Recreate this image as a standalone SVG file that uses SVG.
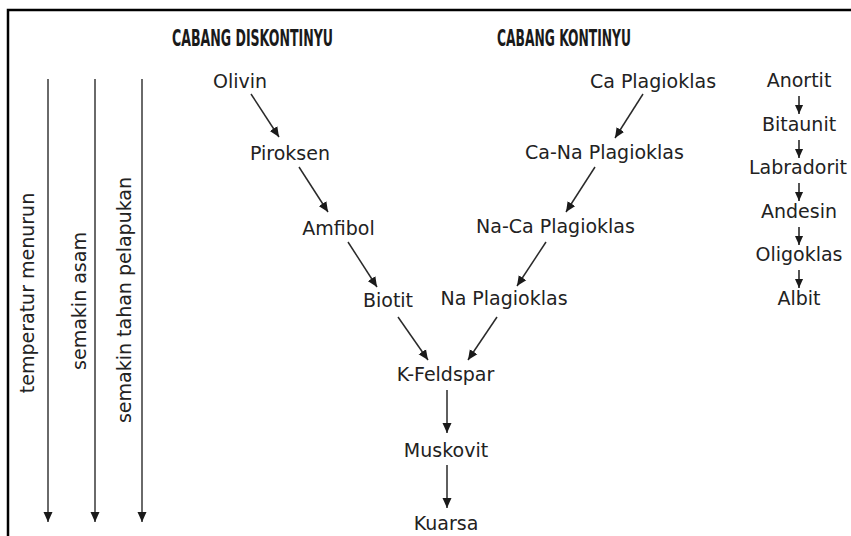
<svg xmlns="http://www.w3.org/2000/svg" width="851" height="536" viewBox="0 0 851 536">
<style>
text{font-family:"DejaVu Sans","Verdana",sans-serif;font-size:19px;fill:#222;text-anchor:middle}
.h{font-family:"DejaVu Sans Condensed","DejaVu Sans",sans-serif;font-weight:bold;font-size:23px;fill:#1a1a1a}
.c{stroke:#2a2a2a;stroke-width:1.5;fill:none}
.g{stroke:#6a6a6a;stroke-width:2;fill:none}
.s{stroke:#2a2a2a;stroke-width:1.6;fill:none}
</style>
<defs>
<marker id="a" viewBox="0 0 10 10" refX="10" refY="5" markerWidth="10" markerHeight="10" markerUnits="userSpaceOnUse" orient="auto">
<path d="M0,0.5 L10,5 L0,9.5 Z" fill="#1a1a1a"/>
</marker>
<marker id="b" viewBox="0 0 10 10" refX="10" refY="5" markerWidth="12" markerHeight="10" markerUnits="userSpaceOnUse" orient="auto">
<path d="M0,0.5 L10,5 L0,9.5 Z" fill="#1a1a1a"/>
</marker>
<marker id="m" viewBox="0 0 10 10" refX="10" refY="5" markerWidth="9" markerHeight="9" markerUnits="userSpaceOnUse" orient="auto">
<path d="M0,0.5 L10,5 L0,9.5 Z" fill="#1a1a1a"/>
</marker>
</defs>
<rect width="851" height="536" fill="#fff"/>
<path d="M8,536 V10 H851" stroke="#000" stroke-width="2.5" fill="none"/>

<g id="headings">
<text class="h" x="252.5" y="46" textLength="161" lengthAdjust="spacingAndGlyphs">CABANG DISKONTINYU</text>
<text class="h" x="564" y="46" textLength="134" lengthAdjust="spacingAndGlyphs">CABANG KONTINYU</text>
</g>

<g id="scales">
<g id="scale-temperatur">
<line class="g" x1="48" y1="79" x2="48" y2="522" marker-end="url(#b)"/>
<text transform="translate(34,293) rotate(-90)">temperatur menurun</text>
</g>
<g id="scale-asam">
<line class="g" x1="95" y1="79" x2="95" y2="522" marker-end="url(#b)"/>
<text transform="translate(86,301) rotate(-90)">semakin asam</text>
</g>
<g id="scale-pelapukan">
<line class="g" x1="142" y1="79" x2="142" y2="522" marker-end="url(#b)"/>
<text transform="translate(131,300) rotate(-90)">semakin tahan pelapukan</text>
</g>
</g>

<g id="n-olivin"><text x="240" y="88">Olivin</text></g>
<g id="n-piroksen"><text x="290" y="160">Piroksen</text></g>
<g id="n-amfibol"><text x="338.5" y="235">Amfibol</text></g>
<g id="n-biotit"><text x="388" y="307">Biotit</text></g>
<g id="n-caplag"><text x="653" y="88">Ca Plagioklas</text></g>
<g id="n-canaplag"><text x="604.5" y="159">Ca-Na Plagioklas</text></g>
<g id="n-nacaplag"><text x="555.5" y="233">Na-Ca Plagioklas</text></g>
<g id="n-naplag"><text x="504" y="305">Na Plagioklas</text></g>
<g id="n-kfeldspar"><text x="445.5" y="381">K-Feldspar</text></g>
<g id="n-muskovit"><text x="446" y="457">Muskovit</text></g>
<g id="n-kuarsa"><text x="446" y="530">Kuarsa</text></g>

<g id="n-anortit"><text x="799" y="87">Anortit</text></g>
<g id="n-bitaunit"><text x="799" y="131">Bitaunit</text></g>
<g id="n-labradorit"><text x="798" y="174">Labradorit</text></g>
<g id="n-andesin"><text x="799" y="218">Andesin</text></g>
<g id="n-oligoklas"><text x="799" y="261">Oligoklas</text></g>
<g id="n-albit"><text x="799" y="305">Albit</text></g>

<g id="connectors">
<line class="c" x1="251" y1="94" x2="279" y2="137" marker-end="url(#a)"/>
<line class="c" x1="299" y1="167" x2="328" y2="212" marker-end="url(#a)"/>
<line class="c" x1="348" y1="242" x2="377" y2="287" marker-end="url(#a)"/>
<line class="c" x1="643" y1="94" x2="615" y2="138" marker-end="url(#a)"/>
<line class="c" x1="595" y1="167" x2="566" y2="212" marker-end="url(#a)"/>
<line class="c" x1="546" y1="242" x2="517" y2="286" marker-end="url(#a)"/>
<line class="c" x1="398" y1="317" x2="428" y2="360" marker-end="url(#a)"/>
<line class="c" x1="497" y1="317" x2="468" y2="360" marker-end="url(#a)"/>
<line class="c" x1="447" y1="390" x2="447" y2="433" marker-end="url(#a)"/>
<line class="c" x1="447" y1="465" x2="447" y2="508" marker-end="url(#a)"/>
<line class="s" x1="799" y1="96" x2="799" y2="114" marker-end="url(#m)"/>
<line class="s" x1="799" y1="140" x2="799" y2="158" marker-end="url(#m)"/>
<line class="s" x1="799" y1="183" x2="799" y2="201" marker-end="url(#m)"/>
<line class="s" x1="799" y1="227" x2="799" y2="245" marker-end="url(#m)"/>
<line class="s" x1="799" y1="270" x2="799" y2="288" marker-end="url(#m)"/>
</g>
</svg>
